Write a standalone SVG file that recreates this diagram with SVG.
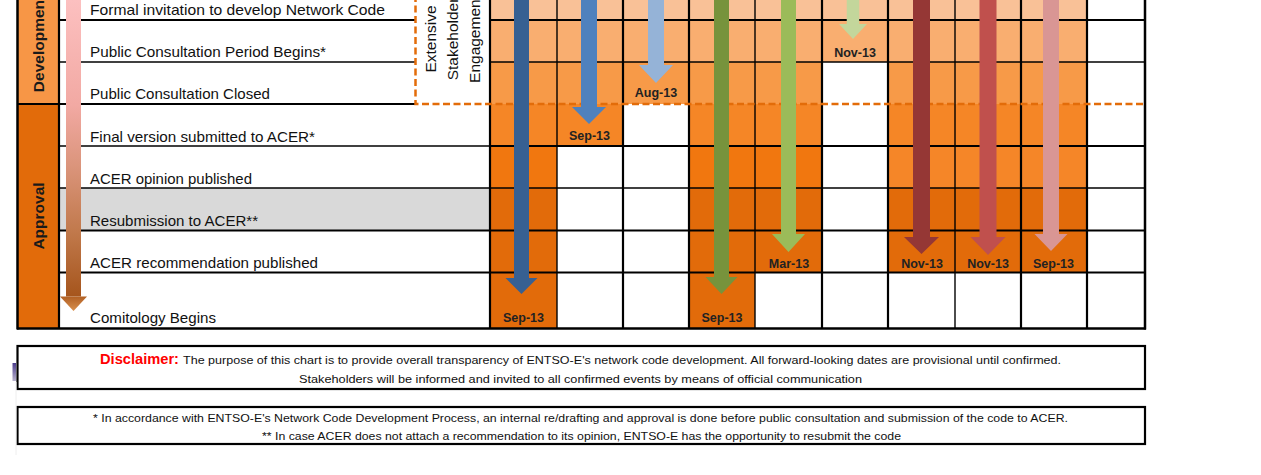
<svg xmlns="http://www.w3.org/2000/svg" width="1261" height="475" viewBox="0 0 1261 475">
<defs>
<style>
.lbl{font-family:"Liberation Sans",Arial,sans-serif;font-size:15px;fill:#111}
.phase{font-family:"Liberation Sans",Arial,sans-serif;font-size:15.5px;font-weight:bold;fill:#1a1a1a;text-anchor:middle}
.ext{font-family:"Liberation Sans",Arial,sans-serif;font-size:15.5px;fill:#111;text-anchor:middle}
.date{font-family:"Liberation Sans",Arial,sans-serif;font-size:12.5px;font-weight:bold;fill:#222;text-anchor:middle}
.note{font-family:"Liberation Sans",Arial,sans-serif;font-size:11.5px;fill:#111}
.red{font-family:"Liberation Sans",Arial,sans-serif;font-size:14.5px;font-weight:bold;fill:#FF0000}
.thick{stroke:#000;stroke-width:2.2;fill:none}
.thin{stroke:#000;stroke-width:1.4;fill:none}
.dash{stroke:#E36C09;stroke-width:2.5;stroke-dasharray:7 3.5;fill:none}
.r1{fill:#F9C197}.r2{fill:#F9AE70}.r3{fill:#F79A48}.r4{fill:#F58626}.r5{fill:#F1770F}.r5b{fill:#F58628}.r6{fill:#E26B0A}
.box{fill:#fff;stroke:#000;stroke-width:2.2}
</style>
<linearGradient id="tl" x1="0" y1="0" x2="0" y2="300" gradientUnits="userSpaceOnUse">
<stop offset="0" stop-color="#FCC0C0"/>
<stop offset="0.35" stop-color="#F2A9A3"/>
<stop offset="0.55" stop-color="#DB957C"/>
<stop offset="0.78" stop-color="#C0784A"/>
<stop offset="1" stop-color="#A4531A"/>
</linearGradient>
<linearGradient id="tlh" x1="0" y1="296" x2="0" y2="311" gradientUnits="userSpaceOnUse">
<stop offset="0" stop-color="#B05E22"/>
<stop offset="1" stop-color="#D8904E"/>
</linearGradient>
<linearGradient id="pm" x1="0" y1="0" x2="0" y2="1">
<stop offset="0" stop-color="#4B3C8C"/>
<stop offset="1" stop-color="#B8B2CC"/>
</linearGradient>
</defs>
<rect x="0" y="0" width="1261" height="475" fill="#fff"/>

<g id="phases">
<rect x="17" y="-5" width="42" height="109" fill="#F79646"/>
<rect x="17" y="104" width="42" height="224.5" fill="#E26B0A"/>
<text class="phase" transform="translate(43.5,43.5) rotate(-90)">Development</text>
<text class="phase" transform="translate(43.5,216) rotate(-90)">Approval</text>
</g>

<g id="cells">
<rect x="59" y="188" width="431" height="42.5" fill="#D9D9D9"/>
<rect class="r1" x="490" y="-5" width="597" height="25"/>
<rect class="r2" x="490" y="20" width="597" height="42"/>
<rect class="r3" x="490" y="62" width="332" height="42"/>
<rect class="r3" x="888" y="62" width="199" height="42"/>
<rect class="r4" x="490" y="104" width="133" height="42"/>
<rect class="r4" x="689" y="104" width="133" height="42"/>
<rect class="r4" x="888" y="104" width="199" height="42"/>
<rect class="r5" x="490" y="146" width="67" height="42"/>
<rect class="r5" x="689" y="146" width="133" height="42"/>
<rect class="r5b" x="888" y="146" width="199" height="42"/>
<rect class="r6" x="490" y="188" width="67" height="84.5"/>
<rect class="r6" x="689" y="188" width="133" height="84.5"/>
<rect class="r6" x="888" y="188" width="199" height="84.5"/>
<rect class="r6" x="490" y="272.5" width="67" height="56"/>
<rect class="r6" x="689" y="272.5" width="66" height="56"/>
</g>

<g id="grid">
<line class="thick" x1="59" y1="20" x2="415" y2="20"/>
<line class="thick" x1="490" y1="20" x2="1145" y2="20"/>
<line class="thin" x1="59" y1="62" x2="415" y2="62"/>
<line class="thin" x1="490" y1="62" x2="1145" y2="62"/>
<line class="thick" x1="17" y1="104" x2="415" y2="104"/>
<line class="thin" x1="59" y1="146" x2="490" y2="146"/>
<line stroke="#000" stroke-width="1.8" x1="490" y1="146" x2="1145" y2="146"/>
<line class="thin" x1="59" y1="188" x2="1145" y2="188"/>
<line class="thick" x1="59" y1="230.5" x2="1145" y2="230.5"/>
<line class="thick" x1="59" y1="272.5" x2="1145" y2="272.5"/>
<line stroke="#000" stroke-width="2.5" x1="17" y1="328.5" x2="1146" y2="328.5"/>
<line stroke="#000" stroke-width="2.5" x1="17.5" y1="-5" x2="17.5" y2="329.5"/>
<line class="thick" x1="59" y1="-5" x2="59" y2="329"/>
<line class="thick" x1="490" y1="-5" x2="490" y2="329"/>
<line class="thin" x1="557" y1="-5" x2="557" y2="329"/>
<line class="thick" x1="623" y1="-5" x2="623" y2="329"/>
<line class="thick" x1="689" y1="-5" x2="689" y2="329"/>
<line class="thin" x1="755" y1="-5" x2="755" y2="329"/>
<line class="thick" x1="822" y1="-5" x2="822" y2="329"/>
<line class="thick" x1="888" y1="-5" x2="888" y2="329"/>
<line class="thin" x1="955" y1="-5" x2="955" y2="329"/>
<line class="thick" x1="1021" y1="-5" x2="1021" y2="329"/>
<line class="thick" x1="1087" y1="-5" x2="1087" y2="329"/>
<line stroke="#000" stroke-width="2.5" x1="1145" y1="-5" x2="1145" y2="329.5"/>
<path class="dash" d="M415.5,-5 V104 H1145"/>
</g>

<g id="stakeholder-engagement">
<text class="ext" transform="translate(436,39) rotate(-90)">Extensive</text>
<text class="ext" transform="translate(458,39) rotate(-90)">Stakeholder</text>
<text class="ext" transform="translate(479.5,39) rotate(-90)">Engagement</text>
</g>

<g id="row-labels">
<text class="lbl" x="90" y="15" textLength="295" lengthAdjust="spacingAndGlyphs">Formal invitation to develop Network Code</text>
<text class="lbl" x="90" y="57" textLength="236" lengthAdjust="spacingAndGlyphs">Public Consultation Period Begins*</text>
<text class="lbl" x="90" y="98.5" textLength="180" lengthAdjust="spacingAndGlyphs">Public Consultation Closed</text>
<text class="lbl" x="90" y="141.5" textLength="225" lengthAdjust="spacingAndGlyphs">Final version submitted to ACER*</text>
<text class="lbl" x="90" y="183.5" textLength="162" lengthAdjust="spacingAndGlyphs">ACER opinion published</text>
<text class="lbl" x="90" y="225.5" textLength="168" lengthAdjust="spacingAndGlyphs">Resubmission to ACER**</text>
<text class="lbl" x="90" y="268" textLength="228" lengthAdjust="spacingAndGlyphs">ACER recommendation published</text>
<text class="lbl" x="90" y="322.5" textLength="126" lengthAdjust="spacingAndGlyphs">Comitology Begins</text>
</g>

<g id="connectors">
<path d="M66,-5 H81 V296.5 H66 Z" fill="url(#tl)"/>
<path d="M60,296.5 H87 L73.5,311 Z" fill="url(#tlh)"/>
<path d="M514,-5 H529 V278 H537.5 L521.5,294 L505.5,278 H514 Z" fill="#376092"/>
<path d="M581,-5 H597 V107 H606 L589,124 L572,107 H581 Z" fill="#4F81BD"/>
<path d="M648,-5 H664 V65 H673 L656,83 L639,65 H648 Z" fill="#95B3D7"/>
<path d="M714,-5 H729 V277 H737.5 L721.5,294 L705.5,277 H714 Z" fill="#77933C"/>
<path d="M781,-5 H796 V234 H805 L788.5,252 L772,234 H781 Z" fill="#9BBB59"/>
<path d="M846.75,-5 H859.25 V24 H867 L853,39 L839,24 H846.75 Z" fill="#C3D69B"/>
<path d="M913,-5 H930 V237 H939 L921.5,254 L904,237 H913 Z" fill="#953735"/>
<path d="M979.5,-5 H996.5 V237 H1005.5 L988,255 L970.5,237 H979.5 Z" fill="#C0504D"/>
<path d="M1043,-5 H1059 V234 H1067.5 L1051,251 L1034.5,234 H1043 Z" fill="#D99694"/>
</g>

<g id="dates">
<text class="date" x="523.5" y="322">Sep-13</text>
<text class="date" x="589.5" y="140">Sep-13</text>
<text class="date" x="656" y="97">Aug-13</text>
<text class="date" x="722" y="322">Sep-13</text>
<text class="date" x="789" y="267.5">Mar-13</text>
<text class="date" x="855" y="57">Nov-13</text>
<text class="date" x="922" y="267.5">Nov-13</text>
<text class="date" x="988" y="267.5">Nov-13</text>
<text class="date" x="1053.5" y="267.5">Sep-13</text>
</g>

<g id="disclaimer">
<rect class="box" x="17.5" y="346" width="1127.5" height="43"/>
<text class="red" x="100" y="364" textLength="79" lengthAdjust="spacingAndGlyphs">Disclaimer:</text>
<text class="note" x="183" y="364" textLength="878" lengthAdjust="spacingAndGlyphs">The purpose of this chart is to provide overall transparency of ENTSO-E's network code development. All forward-looking dates are provisional until confirmed.</text>
<text class="note" x="299" y="383" textLength="563" lengthAdjust="spacingAndGlyphs">Stakeholders will be informed and invited to all confirmed events by means of official communication</text>
</g>

<g id="footnotes">
<rect class="box" x="17.5" y="407" width="1127.5" height="37"/>
<text class="note" x="93" y="421.5" textLength="975" lengthAdjust="spacingAndGlyphs">* In accordance with ENTSO-E's Network Code Development Process, an internal re/drafting and approval is done before public consultation and submission of the code to ACER.</text>
<text class="note" x="262" y="440" textLength="639" lengthAdjust="spacingAndGlyphs">** In case ACER does not attach a recommendation to its opinion, ENTSO-E has the opportunity to resubmit the code</text>
</g>

<rect x="12.5" y="363" width="3.5" height="18" fill="url(#pm)"/>
<line x1="16" y1="382" x2="16" y2="455" stroke="#EEEEEE" stroke-width="1"/>
</svg>
